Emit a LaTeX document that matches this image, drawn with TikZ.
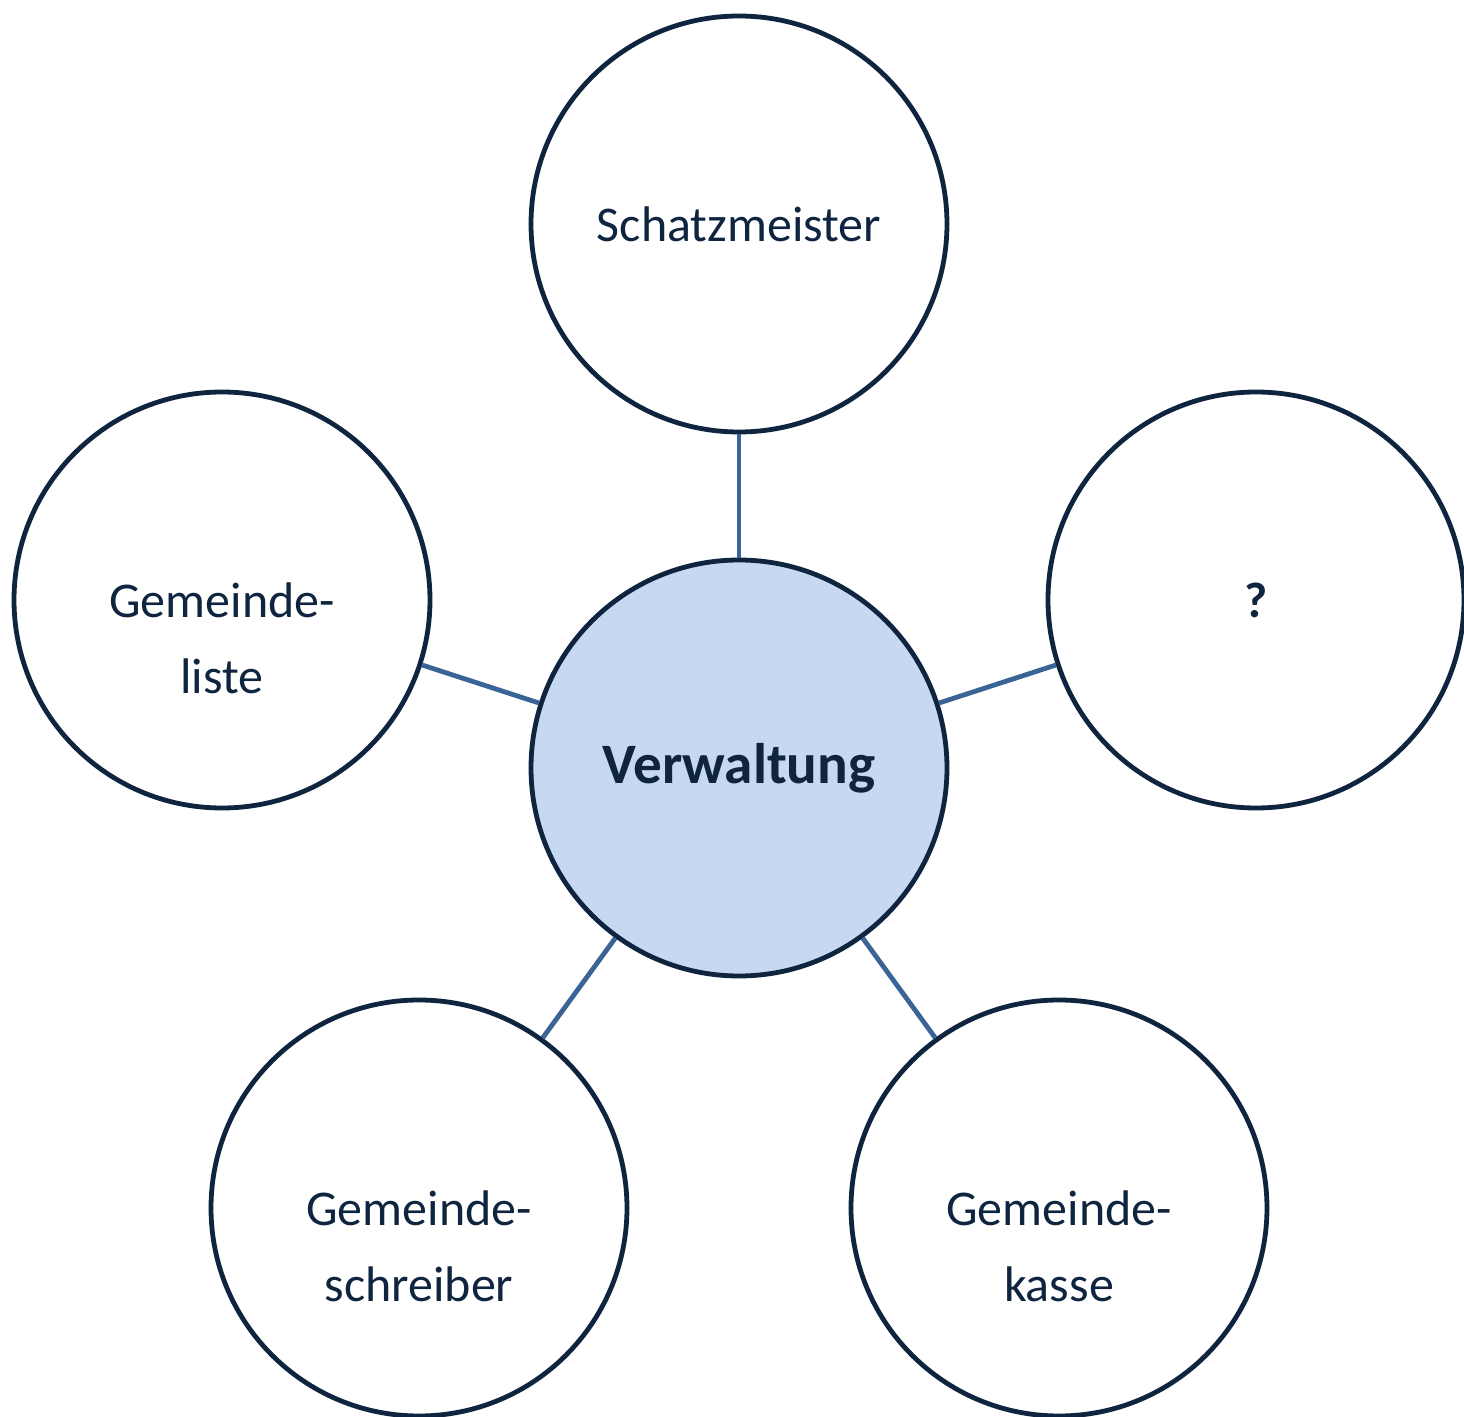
\documentclass[tikz,border=0pt]{standalone}
\usepackage{fontspec}
\setmainfont{Carlito}
\definecolor{rim}{HTML}{0F243E}
\definecolor{txt}{HTML}{0F243E}
\definecolor{link}{HTML}{3B6496}
\definecolor{hub}{HTML}{C6D9F1}
\tikzset{
  bubble/.style={circle, draw=rim, line width=2.4pt, fill=white, minimum size=208pt, inner sep=0pt, outer sep=1.2pt},
  hubbubble/.style={bubble, fill=hub},
  lbl/.style={text=txt, align=center, font=\fontsize{25pt}{38pt}\selectfont, inner sep=0pt},
  two/.style={lbl, yshift=-19pt},
  conn/.style={draw=link, line width=2.4pt}
}
\begin{document}
\begin{tikzpicture}[x=0.5pt,y=-0.5pt]
\useasboundingbox (0,0) rectangle (1464,1417);
\node[hubbubble] (c) at (739,768) {};
\node[bubble] (t) at (739,224) {};
\node[bubble] (l) at (222,600) {};
\node[bubble] (r) at (1256,600) {};
\node[bubble] (bl) at (419,1208) {};
\node[bubble] (br) at (1059,1208) {};
\draw[conn] (c) -- (t);
\draw[conn] (c) -- (l);
\draw[conn] (c) -- (r);
\draw[conn] (c) -- (bl);
\draw[conn] (c) -- (br);
\node[lbl, font=\bfseries\fontsize{28.6pt}{34pt}\selectfont] (tc) at (c.center) {Verwaltung};
\node[lbl] (tt) at (t.center) {Schatzmeister};
\node[lbl, font=\bfseries\fontsize{25pt}{38pt}\selectfont] (tr) at (r.center) {?};
\node[two] (tl) at (l.center) {Gemeinde-\\liste};
\node[two] (tbl) at (bl.center) {Gemeinde-\\schreiber};
\node[two] (tbr) at (br.center) {Gemeinde-\\kasse};
\end{tikzpicture}
\end{document}
